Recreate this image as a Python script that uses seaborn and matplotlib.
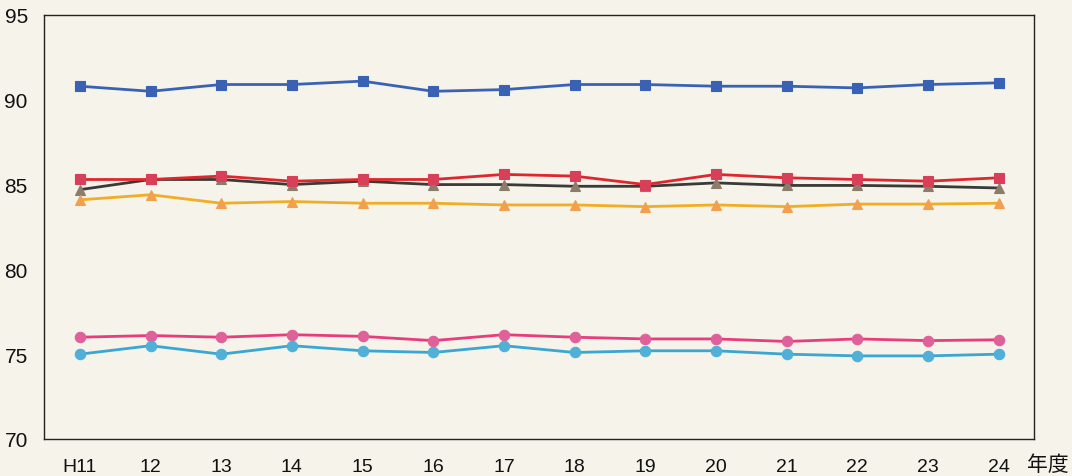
import matplotlib
matplotlib.use("Agg")
import matplotlib.pyplot as plt
import seaborn as sns
import pandas as pd
import numpy as np
from matplotlib.ticker import FixedLocator

years = ["H11", "12", "13", "14", "15", "16", "17", "18", "19", "20", "21", "22", "23", "24"]
blue_sq = [90.8, 90.5, 90.9, 90.9, 91.1, 90.5, 90.6, 90.9, 90.9, 90.8, 90.8, 90.7, 90.9, 91.0]
red_sq = [85.3, 85.3, 85.5, 85.2, 85.3, 85.3, 85.6, 85.5, 85.0, 85.6, 85.4, 85.3, 85.2, 85.4]
gray_tri = [84.7, 85.3, 85.3, 85.0, 85.2, 85.0, 85.0, 84.9, 84.9, 85.1, 84.95, 84.95, 84.9, 84.8]
orange_tri = [84.1, 84.4, 83.9, 84.0, 83.9, 83.9, 83.8, 83.8, 83.7, 83.8, 83.7, 83.85, 83.85, 83.9]
pink_circ = [76.0, 76.1, 76.0, 76.15, 76.05, 75.8, 76.15, 76.0, 75.9, 75.9, 75.75, 75.9, 75.8, 75.85]
cyan_circ = [75.0, 75.5, 75.0, 75.5, 75.2, 75.1, 75.5, 75.1, 75.2, 75.2, 75.0, 74.9, 74.9, 75.0]
y_ticks = [70, 75, 80, 85, 90, 95]
unit_label = "年度"

series = [
    (blue_sq, "#3a62b4", "#3a62b4", "s"),
    (gray_tri, "#3a3a36", "#8c7c6c", "^"),
    (red_sq, "#e0262c", "#d8405a", "s"),
    (orange_tri, "#f0ae24", "#f2a050", "^"),
    (pink_circ, "#e83c7c", "#e0609a", "o"),
    (cyan_circ, "#3aa6d2", "#50b0d8", "o"),
]

sns.set_style("white")
plt.rcParams['font.family'] = ['Liberation Sans Narrow', 'Liberation Sans', 'Noto Sans CJK JP', 'DejaVu Sans']

bg = "#f5f3ea"
fig = plt.figure(figsize=(10.72, 4.77), dpi=100, facecolor=bg)
ax = fig.add_axes([0.0415, 0.0776, 0.9231, 0.8889])
ax.set_facecolor(bg)

xpos = np.arange(len(years))
for vals, lc, mc, mk in series:
    df = pd.DataFrame({"x": xpos, "y": vals})
    sns.lineplot(data=df, x="x", y="y", ax=ax, color=lc, linewidth=2.0,
                 marker=mk, markersize=7.5, markerfacecolor=mc, markeredgecolor=mc,
                 markeredgewidth=0.8)

ax.set_xlim(-0.5, len(years) - 0.5)
ax.set_ylim(70, 95)
ax.set_yticks(y_ticks)
ax.set_yticklabels([str(t) for t in y_ticks], fontsize=15, color="#111111")
ax.set_xticks(xpos)
ax.set_xticklabels(years, fontsize=14, color="#111111")
ax.xaxis.set_minor_locator(FixedLocator(xpos[:-1] + 0.5))
ax.tick_params(axis="x", which="major", length=0, pad=14)
ax.tick_params(axis="x", which="minor", direction="in", length=6, width=0.9, color="#222222")
ax.tick_params(axis="y", which="major", direction="in", length=5, width=0.9, color="#222222", pad=12)
ax.set_xlabel("")
ax.set_ylabel("")
for s in ax.spines.values():
    s.set_color("#222222")
    s.set_linewidth(1.0)

fig.text(1048 / 1072, 1 - 465 / 477, unit_label, fontsize=15, ha="center", va="center",
         color="#111111", family=['Noto Sans CJK JP', 'DejaVu Sans'])

fig.savefig("out.png", dpi=100, facecolor=bg)
